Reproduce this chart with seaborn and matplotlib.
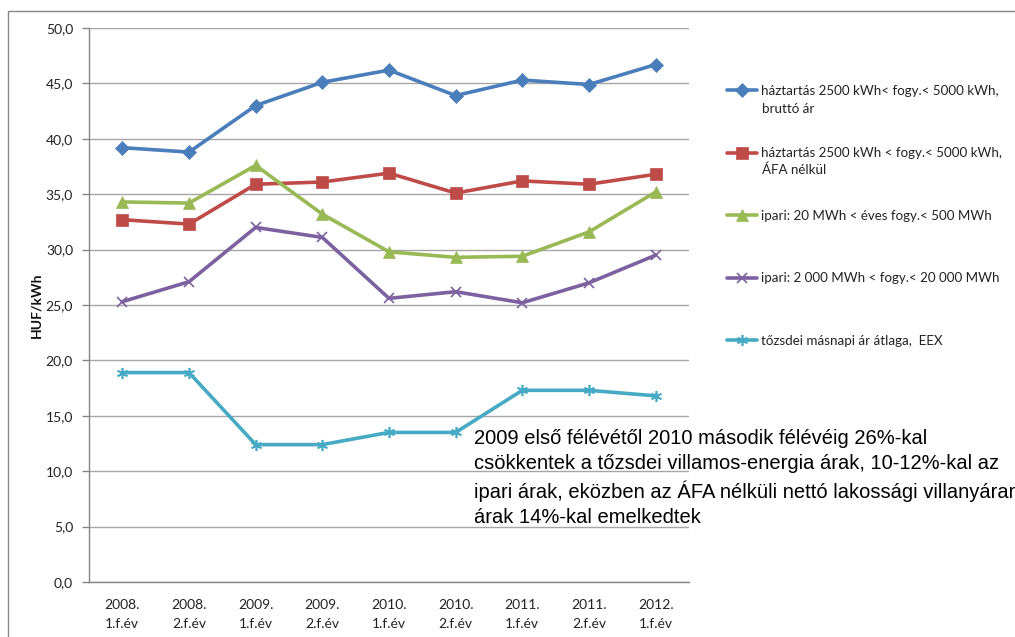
import matplotlib
matplotlib.use("Agg")
import matplotlib.pyplot as plt
import seaborn as sns
import pandas as pd
import numpy as np
from matplotlib.patches import Rectangle
from matplotlib.ticker import FuncFormatter, MultipleLocator

periods = ["2008.\n1.f.év", "2008.\n2.f.év", "2009.\n1.f.év", "2009.\n2.f.év",
           "2010.\n1.f.év", "2010.\n2.f.év", "2011.\n1.f.év", "2011.\n2.f.év",
           "2012.\n1.f.év"]

haztartas_brutto = [39.2, 38.8, 43.0, 45.1, 46.2, 43.9, 45.3, 44.9, 46.7]
haztartas_netto = [32.7, 32.3, 35.9, 36.1, 36.9, 35.1, 36.2, 35.9, 36.8]
ipari_kicsi = [34.3, 34.2, 37.6, 33.2, 29.8, 29.3, 29.4, 31.6, 35.2]
ipari_nagy = [25.3, 27.1, 32.0, 31.1, 25.6, 26.2, 25.2, 27.0, 29.5]
tozsdei = [18.9, 18.9, 12.4, 12.4, 13.5, 13.5, 17.3, 17.3, 16.8]

legend_first = ["háztartás 2500 kWh< fogy.< 5000 kWh,",
                "háztartás 2500 kWh < fogy.< 5000 kWh,",
                "ipari: 20 MWh < éves fogy.< 500 MWh",
                "ipari: 2 000 MWh < fogy.< 20 000 MWh",
                "tőzsdei másnapi ár átlaga,  EEX"]
legend_second = ["bruttó ár", "ÁFA nélkül", "", "", ""]

note = ("2009 első félévétől 2010 második félévéig 26%-kal\n"
        "csökkentek a tőzsdei villamos-energia árak, 10-12%-kal az\n"
        "ipari árak, eközben az ÁFA nélküli nettó lakossági villanyáram\n"
        "árak 14%-kal emelkedtek")

series = [haztartas_brutto, haztartas_netto, ipari_kicsi, ipari_nagy, tozsdei]
colors = ["#4A7EBB", "#BE4B48", "#98B954", "#7D60A0", "#46AAC5"]
markers = ["D", "s", "^", "x", (6, 2, 0)]
msizes = [7, 8.5, 9, 7.5, 8]

sns.set_style("white")
plt.rcParams["font.family"] = ["Lato", "DejaVu Sans"]

W, H = 1015, 637
fig = plt.figure(figsize=(W / 100, H / 100), dpi=100)
ax = fig.add_axes([89 / W, 1 - 582 / H, (689 - 89) / W, (582 - 28) / H])

x = np.arange(len(periods))
for vals, c, m, ms, lab in zip(series, colors, markers, msizes, legend_first):
    df = pd.DataFrame({"x": x, "y": vals})
    sns.lineplot(data=df, x="x", y="y", ax=ax, color=c, marker=m, markersize=ms,
                 linewidth=2.6, markeredgecolor=c,
                 markeredgewidth=1.2 if m in ("x", (6, 2, 0)) else 0.5,
                 label=lab)

h, l = ax.get_legend_handles_labels()
ax.get_legend().remove()

ax.set_xlim(-0.5, len(periods) - 0.5)
ax.set_ylim(0, 50)
ax.yaxis.set_major_locator(MultipleLocator(5))
ax.yaxis.set_major_formatter(FuncFormatter(lambda v, p: f"{v:.1f}".replace(".", ",")))
ax.set_xticks(x)
ax.set_xticklabels(periods, fontsize=10, color="#222222", linespacing=1.7)
ax.set_xticks(np.arange(-0.5, len(periods)), minor=True)
ax.tick_params(axis="x", which="major", length=0, pad=12)
ax.tick_params(axis="x", which="minor", length=5, color="#868686", width=1, direction="out")
ax.tick_params(axis="y", which="major", length=5, color="#868686", width=1, labelsize=10,
               labelcolor="#222222", pad=6.5, direction="out", left=True)
ax.set_xlabel("")
ax.set_ylabel("HUF/kWh", fontsize=10, fontweight="bold", color="#111111")
ax.yaxis.set_label_coords(-0.078, 0.5)

ax.grid(axis="y", color="#A6A6A6", linewidth=1)
ax.grid(axis="x", visible=False)
for s in ["top", "right"]:
    ax.spines[s].set_visible(False)
for s in ["left", "bottom"]:
    ax.spines[s].set_color("#868686")
    ax.spines[s].set_linewidth(1)

# outer frame of the chart area
fig.add_artist(Rectangle((8 / W, -0.1), 1.2, 1 - 11 / H + 0.1, transform=fig.transFigure,
                         fill=False, edgecolor="#888888", linewidth=1))

leg = fig.legend(h, l, loc="upper left", bbox_to_anchor=(727 / W, 1 - 85 / H),
                 frameon=False, fontsize=9.6, handlelength=2.25, handletextpad=0.3,
                 labelspacing=3.78, borderpad=0, borderaxespad=0)
for t in leg.get_texts():
    t.set_color("#222222")

second_y = [109, 170]
for txt, yy in zip(legend_second[:2], second_y):
    fig.text(762 / W, 1 - yy / H, txt, fontsize=9.6, color="#222222", va="center", ha="left")

fig.text(474 / W, 1 - 429 / H, note, fontsize=14.5, family=["Liberation Sans", "DejaVu Sans"],
         va="top", ha="left", linespacing=1.41, color="#000000")

fig.savefig("out.png", dpi=100)
